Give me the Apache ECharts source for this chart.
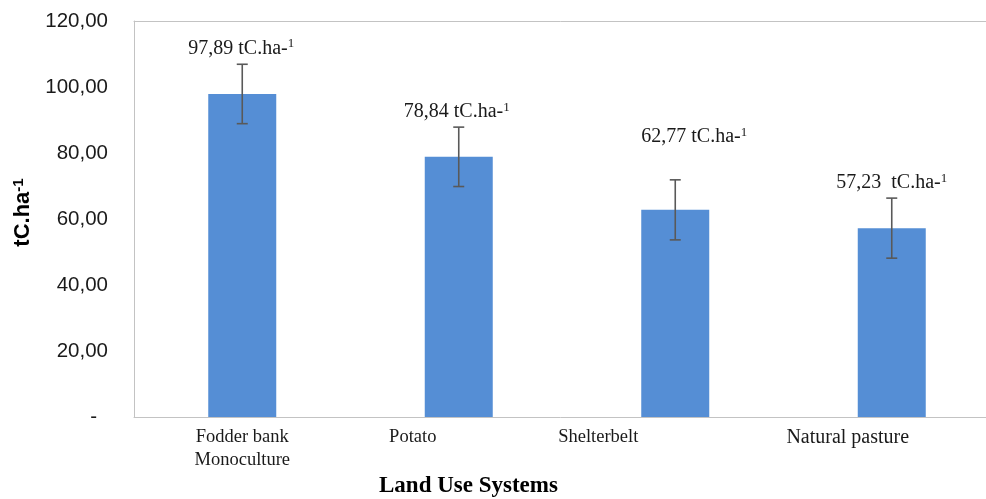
<!DOCTYPE html>
<html>
<head>
<meta charset="utf-8">
<script src="https://cdn.jsdelivr.net/npm/echarts@6/dist/echarts.min.js"></script>
<style>html,body{margin:0;padding:0;background:#fff;}#c{width:986px;height:499px;}</style>
</head>
<body>
<div id="c"></div>
<script>
var categories = ['Fodder bank\nMonoculture', 'Potato', 'Shelterbelt', 'Natural pasture'];
var values = [97.89, 78.84, 62.77, 57.23];
var errors = [9.0, 9.0, 9.1, 9.1];
var labelUnit = ['tC.ha-', 'tC.ha-', 'tC.ha-', ' tC.ha-'];
var yTicks = [0, 20, 40, 60, 80, 100, 120];

// styling (positions of hand-placed labels, pixels)
var labelDx = [-1, -2, 19, 0];
var labelDy = [-16, -15, -43, -15];
var catShift = [0, 92, 154, 88];
var catFont = [18.5, 18.5, 18.5, 20];

var chart = echarts.init(document.getElementById('c'));
var fmt = function (v) { return v.toFixed(2).replace('.', ','); };
var catRich = {};
catShift.forEach(function (s, i) {
  catRich['c' + i] = { fontFamily: 'Liberation Serif', fontSize: catFont[i], color: '#1a1a1a', lineHeight: 23, padding: [0, s, 0, 0] };
});

chart.setOption({
  animation: false,
  grid: { left: 134, width: 866, top: 21, height: 396, outerBoundsMode: 'none', containLabel: false, show: false },
  xAxis: [{
    type: 'category',
    data: categories,
    axisLine: { show: true, lineStyle: { color: '#c3c3c3', width: 1 } },
    axisTick: { show: false },
    axisLabel: {
      margin: 9,
      interval: 0,
      formatter: function (v, i) { return '{c' + i + '|' + v + '}'; },
      rich: catRich
    }
  }, {
    type: 'category',
    position: 'top',
    data: categories,
    axisLine: { show: true, lineStyle: { color: '#c3c3c3', width: 1 } },
    axisTick: { show: false },
    axisLabel: { show: false }
  }],
  yAxis: {
    type: 'value',
    min: yTicks[0],
    max: yTicks[yTicks.length - 1],
    interval: yTicks[1] - yTicks[0],
    splitLine: { show: false },
    axisLine: { show: true, lineStyle: { color: '#c3c3c3', width: 1 } },
    axisTick: { show: false },
    axisLabel: {
      margin: 26,
      formatter: function (v) { return v === 0 ? '{z|-}' : '{n|' + fmt(v) + '}'; },
      rich: {
        n: { fontFamily: 'Liberation Sans', fontSize: 20.5, color: '#1a1a1a' },
        z: { fontFamily: 'Liberation Sans', fontSize: 20.5, color: '#1a1a1a', padding: [0, 11, 0, 0] }
      }
    },
    name: '{a|tC.ha}{b|-1}',
    nameLocation: 'middle',
    nameGap: 83,
    nameTextStyle: {
      rich: {
        a: { fontFamily: 'Liberation Sans', fontSize: 22, fontWeight: 'bold', color: '#000', padding: [0, 0, 0, 13] },
        b: { fontFamily: 'Liberation Sans', fontSize: 15, fontWeight: 'bold', color: '#000', verticalAlign: 'top', padding: [0, 0, 10, 0] }
      }
    }
  },
  graphic: [{
    type: 'text', left: 379, top: 475,
    style: { text: 'Land Use Systems', font: 'bold 23px "Liberation Serif"', fill: '#000' }
  }],
  series: [{
    type: 'bar',
    data: values,
    barWidth: 68,
    itemStyle: { color: '#558ED5' }
  }, {
    type: 'custom',
    data: values.map(function (v, i) { return [i, v, errors[i]]; }),
    z: 5,
    renderItem: function (params, api) {
      var i = api.value(0), v = api.value(1), e = api.value(2);
      var hi = api.coord([i, v + e]);
      var lo = api.coord([i, v - e]);
      var hw = 5.5;
      var ls = { stroke: '#595959', lineWidth: 1.6 };
      return {
        type: 'group',
        children: [
          { type: 'line', shape: { x1: hi[0], y1: hi[1], x2: lo[0], y2: lo[1] }, style: ls },
          { type: 'line', shape: { x1: hi[0] - hw, y1: hi[1], x2: hi[0] + hw, y2: hi[1] }, style: ls },
          { type: 'line', shape: { x1: lo[0] - hw, y1: lo[1], x2: lo[0] + hw, y2: lo[1] }, style: ls },
          {
            type: 'text',
            style: {
              x: hi[0] + labelDx[i], y: hi[1] + labelDy[i],
              text: '{n|' + fmt(v) + ' ' + labelUnit[i] + '}{s|1}',
              align: 'center', verticalAlign: 'middle',
              rich: {
                n: { fontFamily: 'Liberation Serif', fontSize: 20, fill: '#1a1a1a', color: '#1a1a1a' },
                s: { fontFamily: 'Liberation Serif', fontSize: 13, fill: '#1a1a1a', color: '#1a1a1a', verticalAlign: 'top', padding: [0, 0, 9, 0] }
              }
            }
          }
        ]
      };
    }
  }]
});
</script>
</body>
</html>
